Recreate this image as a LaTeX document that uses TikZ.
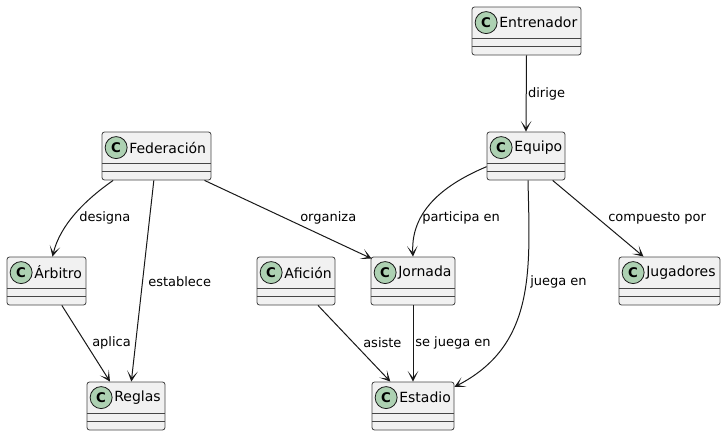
\documentclass[tikz,border=0pt]{standalone}
\usepackage{fontspec}
\setmainfont{DejaVu Sans}
\usetikzlibrary{arrows.meta}
\definecolor{clsfill}{HTML}{F1F1F1}
\definecolor{clsline}{HTML}{181818}
\definecolor{circfill}{HTML}{ADD1B2}
\tikzset{
  cls/.style={draw=clsline!80, fill=clsfill, line width=0.6pt, rounded corners=1.9pt, minimum height=36pt, inner sep=0pt},
  divl/.style={draw=clsline!80, line width=0.6pt},
  circ/.style={circle, draw=clsline, fill=circfill, line width=0.6pt, minimum size=16.5pt, inner sep=0pt, font=\bfseries\fontsize{10pt}{10pt}\selectfont},
  clsname/.style={anchor=west, inner sep=0pt, font=\fontsize{10.5pt}{12pt}\selectfont},
  rel/.style={draw=clsline, line width=0.75pt, -{Stealth[length=8pt,width=8pt,inset=5pt]}},
  lbl/.style={anchor=west, inner sep=0pt, font=\fontsize{9.75pt}{11pt}\selectfont}
}
\newcommand\umlcls[5]{%
  \node[cls, minimum width=#4*0.75pt] (#1) at (#2,#3) {};
  \draw[divl] ([yshift=-24pt]#1.north west) -- ([yshift=-24pt]#1.north east);
  \draw[divl] ([yshift=-30pt]#1.north west) -- ([yshift=-30pt]#1.north east);
  \node[circ] (#1c) at ([xshift=10.9pt,yshift=-12pt]#1.north west) {C};
  \node[clsname] (#1t) at ([xshift=20.6pt,yshift=-12pt]#1.north west) {#5};
}
\begin{document}
\begin{tikzpicture}[x=0.75pt,y=-0.75pt]
\useasboundingbox (0,0) rectangle (726,436);
\umlcls{ent}{526.5}{31}{109}{Entrenador}
\umlcls{eq}{526}{156}{78}{Equipo}
\umlcls{fed}{156.5}{156}{109}{Federación}
\umlcls{arb}{46.5}{281}{79}{Árbitro}
\umlcls{afi}{296}{281}{78}{Afición}
\umlcls{jor}{413}{281}{84}{Jornada}
\umlcls{jug}{669.5}{281}{101}{Jugadores}
\umlcls{reg}{126}{406}{78}{Reglas}
\umlcls{est}{413}{406}{82}{Estadio}

% Entrenador -> Equipo
\draw[rel] (ent.south) -- node[lbl, pos=0.5, xshift=1pt] {dirige} (eq.north);
% Equipo -> Jornada
\draw[rel] ([yshift=-8pt]eq.west) .. controls (455,180) and (410,205) .. (jor.north);
\node[lbl] (lpart) at (422,218) {participa en};
% Equipo -> Estadio
\draw[rel] ([xshift=1.5pt]eq.south) .. controls (530,270) and (536,345) .. ([yshift=-4pt]est.north east);
\node[lbl] (ljue) at (530,282) {juega en};
% Equipo -> Jugadores
\draw[rel] ([xshift=20pt]eq.south) -- ([xshift=-19.5pt]jug.north);
\node[lbl] (lcomp) at (608,218) {compuesto por};
% Federacion -> Arbitro
\draw[rel] ([xshift=-32.5pt]fed.south) .. controls (85,200) and (60,225) .. ([xshift=4.5pt]arb.north);
\node[lbl] (ldes) at (79,218) {designa};
% Federacion -> Reglas
\draw[rel] ([xshift=-2pt]fed.south) -- ([xshift=4pt]reg.north);
\node[lbl] (lest) at (148,282) {establece};
% Federacion -> Jornada
\draw[rel] ([xshift=36pt]fed.south) -- ([xshift=0.75pt,yshift=-1.5pt]jor.north west);
\node[lbl] (lorg) at (300,218) {organiza};
% Arbitro -> Reglas
\draw[rel] ([xshift=11.5pt]arb.south) -- ([xshift=-12pt]reg.north);
\node[lbl] (lapl) at (92,343) {aplica};
% Aficion -> Estadio
\draw[rel] ([xshift=16.5pt]afi.south) -- ([xshift=-17pt]est.north);
\node[lbl] (lasi) at (363,343) {asiste};
% Jornada -> Estadio
\draw[rel] (jor.south) -- (est.north);
\node[lbl] (lseju) at (415,343) {se juega en};
\end{tikzpicture}
\end{document}
